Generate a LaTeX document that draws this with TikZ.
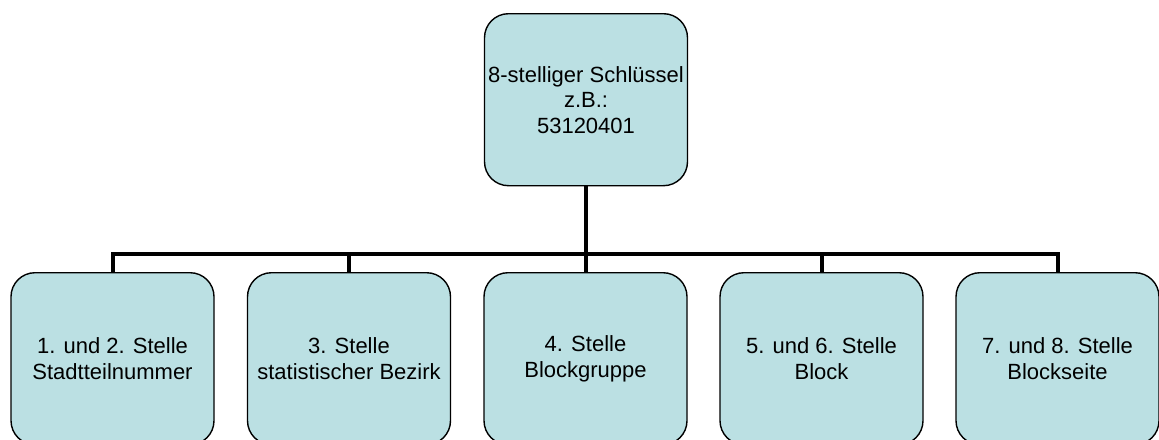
\documentclass[tikz,border=0pt]{standalone}
\usepackage{fontspec}
\setmainfont{Liberation Sans}
\definecolor{boxfill}{RGB}{187,224,227}
\begin{document}
\begin{tikzpicture}[x=1pt,y=-1pt,
  box/.style={draw=black, line width=1.4pt, fill=boxfill, rounded corners=24pt,
    minimum width=203pt, minimum height=172pt, inner sep=0pt, align=center,
    font=\fontsize{22}{25.5}\selectfont, anchor=north},
  conn/.style={line width=4pt}]
\useasboundingbox (0,0) rectangle (1159,439);
\begin{scope}
\clip (0,0) rectangle (1159,439);
\node[box] (top) at (586,13) {8-stelliger Schlüssel\\z.B.:\\53120401};
\node[box] (b1) at (112.5,272) {1. und 2. Stelle\\Stadtteilnummer};
\node[box] (b2) at (349,272) {3. Stelle\\statistischer Bezirk};
\node[box] (b3) at (585.5,272) {4. Stelle\\Blockgruppe};
\node[box] (b4) at (821.5,272) {5. und 6. Stelle\\Block};
\node[box] (b5) at (1057.5,272) {7. und 8. Stelle\\Blockseite};
\coordinate (bus) at (586,254);
\draw[conn] (top.south) -- (bus);
\draw[conn] (b1.north) |- (bus) -| (b5.north);
\draw[conn] (b2.north) -- (b2.north |- bus);
\draw[conn] (b3.north) -- (b3.north |- bus);
\draw[conn] (b4.north) -- (b4.north |- bus);
\end{scope}
\end{tikzpicture}
\end{document}
